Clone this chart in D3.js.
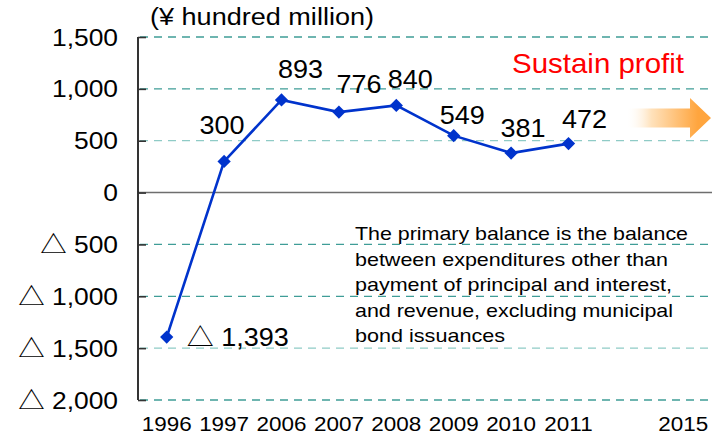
<!DOCTYPE html>
<html><head><meta charset="utf-8">
<script src="https://cdn.jsdelivr.net/npm/d3@7/dist/d3.min.js"></script>
<style>
html,body{margin:0;padding:0;background:#fff;}
svg{display:block;font-family:"Liberation Sans",Arial,sans-serif;}
</style></head><body>
<svg id="chart" width="716" height="437"></svg>
<script>
// ---- data ----
const categories = ["1996","1997","2006","2007","2008","2009","2010","2011","2012","2015"];
const categoryLabels = ["1996","1997","2006","2007","2008","2009","2010","2011","","2015"];
const values = [-1393, 300, 893, 776, 840, 549, 381, 472];
const valueLabels = ["1,393", "300", "893", "776", "840", "549", "381", "472"];
const yTicks = [1500, 1000, 500, 0, -500, -1000, -1500, -2000];
const yTickLabels = ["1,500","1,000","500","0","500","1,000","1,500","2,000"];
const unitTitle = "(¥ hundred million)";
const sustainText = "Sustain profit";
const noteLines = ["The primary balance is the balance","between expenditures other than","payment of principal and interest,","and revenue, excluding municipal","bond issuances"];

// ---- layout ----
const L = {left:138, right:712, top:37, bottom:400};
const labelOffsets = [[20,9],[-2,-27],[19,-22],[20,-19],[14,-17.5],[8.5,-12],[12,-16],[16,-16]];
const svg = d3.select("#chart");
const x = d3.scaleBand().domain(categories).range([L.left, L.right]).padding(0);
const y = d3.scaleLinear().domain([-2000, 1500]).range([L.bottom, L.top]);
const cx = i => x(categories[i]) + x.bandwidth()/2;
const tri = "\u25B3";
const cjk = "'Noto Sans CJK JP'";

function txt(str, px, py, size, anchor, sx, fill){
  return svg.append("text")
    .attr("transform", `translate(${px},${py}) scale(${sx||1},1)`)
    .attr("font-size", size).attr("text-anchor", anchor||"start")
    .attr("fill", fill||"#000").text(str);
}

// gradient
const defs = svg.append("defs");
const grad = defs.append("linearGradient").attr("id","ag").attr("gradientUnits","userSpaceOnUse")
  .attr("x1", cx(8)).attr("x2", L.right-14).attr("y1",0).attr("y2",0);
grad.append("stop").attr("offset",0).attr("stop-color","#fff").attr("stop-opacity",0);
grad.append("stop").attr("offset",0.35).attr("stop-color","#FFE2BC");
grad.append("stop").attr("offset",1).attr("stop-color","#FFA53E");

// gridlines
const lightTicks = [500, -1500];
svg.append("g").selectAll("line").data(yTicks.filter(d => d !== 0)).join("line")
  .attr("x1", L.left+2).attr("x2", L.right)
  .attr("y1", d => y(d)).attr("y2", d => y(d))
  .attr("stroke", d => lightTicks.includes(d) ? "#8FCBC6" : "#3F9D97")
  .attr("stroke-width", 1.3).attr("stroke-dasharray", "8,6");
// zero line
svg.append("line").attr("x1", L.left).attr("x2", L.right).attr("y1", y(0)).attr("y2", y(0))
  .attr("stroke", "#6E6E6E").attr("stroke-width", 1.6);

// y axis
const ya = d3.axisRight(y).tickValues(yTicks).tickSize(8).tickFormat("");
const yg = svg.append("g").attr("transform", `translate(${L.left},0)`).call(ya);
yg.select(".domain").attr("stroke","#000").attr("stroke-width",1.6).attr("d", `M0,${L.top}V${L.bottom}`);
yg.selectAll(".tick line").attr("stroke","#333").attr("stroke-width",1.6);

yTicks.forEach((v,i) => {
  const t = txt("", 118, y(v) + 8.5, 24, "end", 1.1);
  if (v < 0) { t.append("tspan").attr("font-family", cjk).text(tri); t.append("tspan").text(" " + yTickLabels[i]); }
  else t.text(yTickLabels[i]);
});

// x labels
categoryLabels.forEach((c,i) => { if (c) txt(c, cx(i), 431, 21, "middle", 1.07); });

// arrow
const ay = y(720);
const hx = L.right - 22;
svg.append("path")
  .attr("d", `M${cx(8)+2},${ay-9.5}H${hx}V${ay-20}L${L.right-1},${ay}L${hx},${ay+20}V${ay+9.5}H${cx(8)+2}Z`)
  .attr("fill","url(#ag)");

// line
const line = d3.line().x((d,i) => cx(i)).y(d => y(d));
svg.append("path").datum(values).attr("d", line).attr("fill","none")
  .attr("stroke","#0033CC").attr("stroke-width",2.6);
svg.append("g").selectAll("path").data(values).join("path")
  .attr("d", d3.symbol(d3.symbolSquare, 88)())
  .attr("transform", (d,i) => `translate(${cx(i)},${y(d)}) rotate(45)`)
  .attr("fill","#0033CC");

// value labels
values.forEach((v,i) => {
  const [dx,dy] = labelOffsets[i];
  const t = txt("", cx(i)+dx, y(v)+dy, 25, v < 0 ? "start" : "middle", 1.08);
  if (v < 0) { t.append("tspan").attr("font-family", cjk).text(tri); t.append("tspan").text(" " + valueLabels[i]); }
  else t.text(valueLabels[i]);
});

// title & annotations
svg.append("text").attr("x",150).attr("y",25).attr("font-size",23)
  .attr("textLength",224).attr("lengthAdjust","spacingAndGlyphs").text(unitTitle);
svg.append("text").attr("x",512).attr("y",73).attr("font-size",28).attr("fill","#FF0000")
  .attr("textLength",172).attr("lengthAdjust","spacingAndGlyphs").text(sustainText);
const noteW = [333, 313, 317, 318, 150];
noteLines.forEach((s,i) => {
  svg.append("text").attr("x",355).attr("y",240 + i*25.5).attr("font-size",19)
    .attr("textLength",noteW[i]).attr("lengthAdjust","spacingAndGlyphs").text(s);
});
</script></body></html>
